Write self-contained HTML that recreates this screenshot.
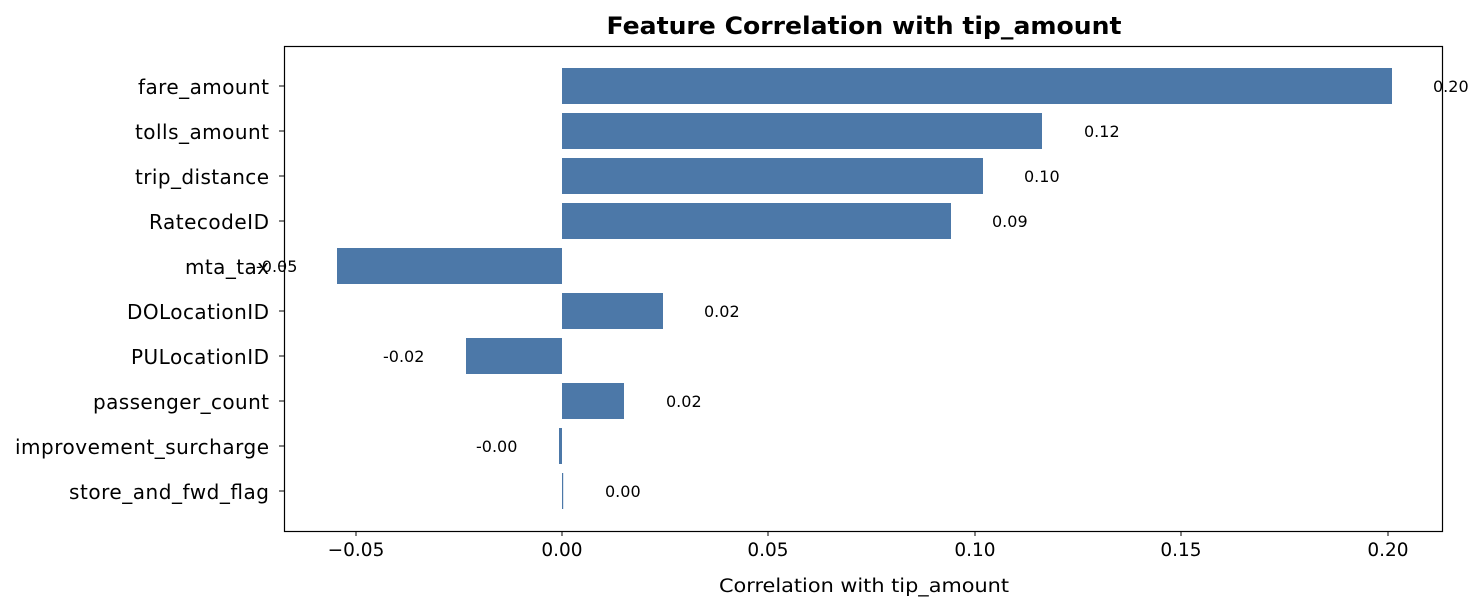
<!DOCTYPE html>
<html><head><meta charset="utf-8"><style>body{margin:0;background:#fff}</style></head><body>
<svg width="1484" height="611" xmlns="http://www.w3.org/2000/svg" font-family="DejaVu Sans, Liberation Sans, sans-serif">
<rect width="1484" height="611" fill="#fff"/>
<text x="864" y="34" text-anchor="middle" font-size="24" font-weight="bold" textLength="515" lengthAdjust="spacingAndGlyphs">Feature Correlation with tip_amount</text>
<g fill="#4c78a8">
<rect x="562" y="68" width="830" height="36"/>
<rect x="562" y="113" width="480" height="36"/>
<rect x="562" y="158" width="421" height="36"/>
<rect x="562" y="203" width="389" height="36"/>
<rect x="337" y="248" width="225" height="36"/>
<rect x="562" y="293" width="101" height="36"/>
<rect x="466" y="338" width="96" height="36"/>
<rect x="562" y="383" width="62" height="36"/>
<rect x="559" y="428" width="3" height="36"/>
<rect x="562" y="473" width="1.2" height="36"/>
</g>
<rect x="284.5" y="46.5" width="1158" height="485" fill="none" stroke="#000" stroke-width="1.2"/>
<g font-size="20" text-anchor="end" lengthAdjust="spacingAndGlyphs">
<text x="269" y="94" textLength="131">fare_amount</text>
<text x="269" y="139" textLength="134">tolls_amount</text>
<text x="269" y="184" textLength="134">trip_distance</text>
<text x="269" y="229" textLength="120">RatecodeID</text>
<text x="269" y="274" textLength="84">mta_tax</text>
<text x="269" y="319" textLength="142">DOLocationID</text>
<text x="269" y="364" textLength="138">PULocationID</text>
<text x="269" y="409" textLength="176">passenger_count</text>
<text x="269" y="454" textLength="254">improvement_surcharge</text>
<text x="269" y="499" textLength="200">store_and_fwd_flag</text>
</g>
<g stroke="#000" stroke-width="1">
<line x1="279" x2="284" y1="86" y2="86"/><line x1="279" x2="284" y1="131" y2="131"/><line x1="279" x2="284" y1="176" y2="176"/><line x1="279" x2="284" y1="221" y2="221"/><line x1="279" x2="284" y1="266" y2="266"/><line x1="279" x2="284" y1="311" y2="311"/><line x1="279" x2="284" y1="356" y2="356"/><line x1="279" x2="284" y1="401" y2="401"/><line x1="279" x2="284" y1="446" y2="446"/><line x1="279" x2="284" y1="491" y2="491"/>
<line x1="356" x2="356" y1="531" y2="536"/><line x1="562" x2="562" y1="531" y2="536"/><line x1="768" x2="768" y1="531" y2="536"/><line x1="975" x2="975" y1="531" y2="536"/><line x1="1181" x2="1181" y1="531" y2="536"/><line x1="1388" x2="1388" y1="531" y2="536"/>
</g>
<g font-size="18.5" text-anchor="middle">
<text x="356" y="556">−0.05</text><text x="562" y="556">0.00</text><text x="768" y="556">0.05</text><text x="975" y="556">0.10</text><text x="1181" y="556">0.15</text><text x="1388" y="556">0.20</text>
<text x="864" y="592" textLength="290" lengthAdjust="spacingAndGlyphs">Correlation with tip_amount</text>
</g>
<g font-size="16">
<text x="1433" y="92">0.20</text>
<text x="1084" y="137">0.12</text>
<text x="1024" y="182">0.10</text>
<text x="992" y="227">0.09</text>
<text x="256" y="272">-0.05</text>
<text x="704" y="317">0.02</text>
<text x="383" y="362">-0.02</text>
<text x="666" y="407">0.02</text>
<text x="476" y="452">-0.00</text>
<text x="605" y="497">0.00</text>
</g>
</svg>
</body></html>
